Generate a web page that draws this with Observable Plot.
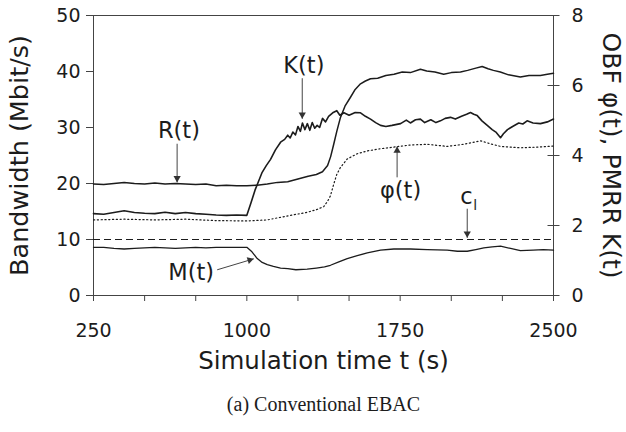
<!DOCTYPE html>
<html><head><meta charset="utf-8">
<script src="https://cdn.jsdelivr.net/npm/d3@7"></script>
<script src="https://cdn.jsdelivr.net/npm/@observablehq/plot@0.6"></script>
<style>body{margin:0;background:#fff} svg{display:block}</style>
</head><body><div id="chart"></div>
<script>
// R(t) in Mbit/s (left axis)
const tR = [250,300,350,400,450,500,550,600,650,700,750,800,850,900,950,1000,1050,1100,1150,1200,1250,1300,1340,1370,1395,1410,1425,1440,1458,1480,1507,1530,1556,1580,1605,1640,1680,1720,1760,1800,1849,1880,1920,1963,2000,2045,2080,2120,2151,2180,2206,2240,2280,2338,2380,2436,2470,2500];
const R  = [19.9,19.8,20.0,20.2,20.0,19.9,20.1,19.9,20.0,19.9,19.8,19.9,19.6,19.7,19.6,19.6,19.7,19.9,20.2,20.3,20.8,21.3,21.6,22.1,23.2,24.8,27.0,29.3,31.8,33.8,35.4,36.8,37.8,38.3,38.7,38.8,39.3,39.5,39.9,39.8,40.4,40.1,39.9,39.5,39.8,39.9,40.2,40.6,40.9,40.5,40.2,39.9,39.4,39.0,39.3,39.3,39.5,39.7];

// K(t) PMRR (right axis units)
const tK = [250,300,350,400,450,500,550,600,650,700,750,800,850,900,950,1000,1020,1040,1055,1075,1095,1116,1140,1165,1185,1200,1212,1225,1238,1250,1262,1272,1284,1296,1308,1320,1332,1344,1356,1370,1385,1400,1420,1440,1455,1475,1500,1530,1556,1580,1605,1630,1654,1680,1710,1752,1780,1800,1825,1849,1870,1900,1925,1947,1970,1996,2020,2050,2075,2094,2110,2127,2150,2176,2200,2220,2241,2255,2275,2300,2330,2350,2371,2400,2436,2470,2500];
const K  = [2.34,2.32,2.37,2.42,2.37,2.35,2.34,2.38,2.34,2.37,2.34,2.32,2.30,2.29,2.30,2.29,2.64,3.01,3.23,3.52,3.71,3.89,4.16,4.38,4.46,4.58,4.50,4.67,4.59,4.83,4.69,4.93,4.74,4.91,4.72,4.94,4.78,4.86,4.80,5.06,4.96,5.12,5.22,5.28,5.15,5.22,5.15,5.23,5.22,5.12,5.04,4.94,4.86,4.83,4.86,4.91,5.01,4.93,5.02,5.04,4.94,5.02,4.94,4.99,5.06,5.09,5.04,5.12,5.18,5.23,5.18,5.14,4.99,4.86,4.74,4.66,4.51,4.62,4.74,4.83,4.93,4.90,4.99,4.93,4.91,4.96,5.04];

// phi(t) OBF (right axis units)
const tPhi = [250,400,550,700,850,1000,1100,1214,1290,1340,1376,1395,1409,1425,1440,1458,1491,1540,1589,1650,1719,1800,1882,1980,2060,2143,2200,2241,2338,2420,2500];
const phi  = [2.16,2.18,2.16,2.18,2.14,2.13,2.16,2.29,2.37,2.45,2.54,2.69,2.85,3.18,3.46,3.66,3.90,4.05,4.13,4.19,4.24,4.30,4.32,4.26,4.32,4.42,4.32,4.26,4.22,4.24,4.27];

// M(t) in Mbit/s (left axis)
const tM = [250,300,350,400,450,500,550,600,650,700,750,800,850,900,950,1000,1025,1051,1075,1100,1130,1165,1200,1240,1295,1340,1380,1409,1450,1491,1540,1589,1654,1719,1800,1882,1980,2030,2078,2120,2159,2200,2241,2290,2338,2400,2450,2500];
const M  = [8.6,8.6,8.4,8.3,8.4,8.5,8.6,8.5,8.4,8.5,8.6,8.5,8.6,8.6,8.6,8.6,7.8,6.6,5.9,5.5,5.2,4.9,4.8,4.6,4.7,4.9,5.1,5.4,6.0,6.6,7.1,7.6,8.1,8.3,8.3,8.2,8.1,7.9,7.9,8.2,8.5,8.7,8.8,8.4,8.0,8.1,8.2,8.1];

// c_l level (Mbit/s)
const clLevel = 10;

// Axes
const leftTicks = [0,10,20,30,40,50];
const rightTickLabels = [0,2,4,6,8];
const xMinorTicks = [250,500,750,1000,1250,1500,1750,2000,2250,2500];
const xTickLabels = [250,1000,1750,2500];
const leftMax = 50, rightMax = 8;
const k = leftMax / rightMax;

// Annotations
const labels = [
  {t: 668, v: 29.5, text: "R(t)"},
  {t: 1279, v: 41.0, text: "K(t)"},
  {t: 1752, v: 18.75, text: "φ(t)"},
  {t: 728, v: 4.0, text: "M(t)"}
];
const arrows = [
  {t1: 659, v1: 27.1, t2: 659, v2: 20.2},
  {t1: 1271, v1: 38.8, t2: 1271, v2: 31.55},
  {t1: 1735, v1: 21.1, t2: 1735, v2: 26.6},
  {t1: 2078, v1: 15.5, t2: 2078, v2: 10.3},
  {t1: 855, v1: 4.59, t2: 1034, v2: 6.55}
];

const W = 626, H = 432, mL = 93, mR = 73, mT = 15, mB = 137;
const pxT = (W - mL - mR) / (2500 - 250);
const pxV = (H - mT - mB) / leftMax;
const headBack = 4.2;
const heads = arrows.map(a => {
  const dx = (a.t2 - a.t1) * pxT, dy = -(a.v2 - a.v1) * pxV;
  const L = Math.hypot(dx, dy), ux = dx / L, uy = dy / L;
  return {
    t: a.t2 - ux * headBack / pxT,
    v: a.v2 + uy * headBack / pxV,
    rot: Math.atan2(ux, -uy) * 180 / Math.PI
  };
});

const rows = (ts, vs, s = 1) => ts.map((t, i) => ({t, v: vs[i] * s}));
const ink = "#1c1c1c";
const font = "DejaVu Sans";

const chart = Plot.plot({
  width: W, height: H,
  marginLeft: mL, marginRight: mR, marginTop: mT, marginBottom: mB,
  style: {fontFamily: font, color: ink, background: "#fff"},
  x: {domain: [250, 2500]},
  y: {domain: [0, leftMax]},
  marks: [
    Plot.frame({stroke: "#444", strokeWidth: 1}),
    // left axis
    Plot.axisY({ticks: leftTicks, anchor: "left", tickSize: 7, tickPadding: 6, fontSize: 19, label: null, stroke: "#444"}),
    // right axis ticks (crossing) and labels
    Plot.axisY({ticks: rightTickLabels.map(d => d * k), anchor: "right", tickSize: 12, dx: -6.5, fill: "none", label: null, stroke: "#444"}),
    Plot.axisY({ticks: rightTickLabels.map(d => d * k), anchor: "right", tickSize: 0, tickPadding: 18, fontSize: 19, label: null,
      tickFormat: d => String(Math.round(d / k))}),
    // bottom axis
    Plot.axisX({ticks: xMinorTicks, anchor: "bottom", tickSize: 6, fill: "none", label: null, stroke: "#444"}),
    Plot.axisX({ticks: xTickLabels, anchor: "bottom", tickSize: 0, tickPadding: 28, fontSize: 19, label: null, tickFormat: d => String(d)}),
    // series
    Plot.ruleY([clLevel], {stroke: ink, strokeWidth: 1.1, strokeDasharray: "7,4"}),
    Plot.line(rows(tPhi, phi, k), {x: "t", y: "v", stroke: ink, strokeWidth: 1.2, strokeDasharray: "1.2,2.6"}),
    Plot.line(rows(tM, M), {x: "t", y: "v", stroke: ink, strokeWidth: 1.3}),
    Plot.line(rows(tR, R), {x: "t", y: "v", stroke: ink, strokeWidth: 1.5}),
    Plot.line(rows(tK, K, k), {x: "t", y: "v", stroke: ink, strokeWidth: 1.6}),
    // annotations
    Plot.link(arrows, {x1: "t1", y1: "v1", x2: "t2", y2: "v2", stroke: "#444", strokeWidth: 1}),
    Plot.dot(heads, {x: "t", y: "v", symbol: "triangle", r: 2.7, fill: "#333", stroke: "none", rotate: "rot"}),
    Plot.text(labels, {x: "t", y: "v", text: "text", fontSize: 22.5, fill: ink}),
    Plot.text(["c"], {x: () => 2074, y: () => 17.6, text: d => d, fontSize: 22.5, fill: ink}),
    Plot.text(["l"], {x: () => 2117, y: () => 16.0, text: d => d, fontSize: 14, fill: ink}),
    // axis titles and caption
    Plot.text(["Bandwidth (Mbit/s)"], {frameAnchor: "left", textAnchor: "middle", rotate: -90, dx: -74, fontSize: 25.5, fill: ink}),
    Plot.text(["OBF φ(t), PMRR K(t)"], {frameAnchor: "right", textAnchor: "middle", rotate: 90, dx: 57, fontSize: 25, fill: ink}),
    Plot.text(["Simulation time t (s)"], {frameAnchor: "bottom", dy: 73, fontSize: 24.5, fill: ink}),
    Plot.text(["(a) Conventional EBAC"], {frameAnchor: "bottom", dy: 115, fontSize: 20, fontFamily: "Liberation Serif", fill: ink})
  ]
});
document.getElementById("chart").appendChild(chart);
</script>
</body></html>
